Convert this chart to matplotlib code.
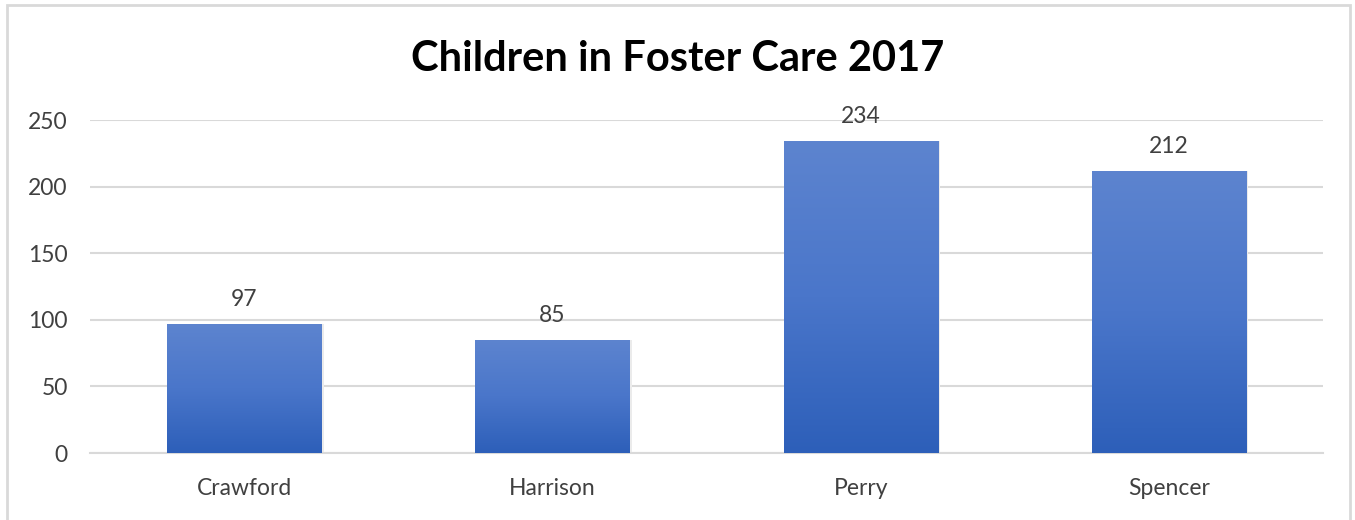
import numpy as np
import matplotlib.pyplot as plt
from matplotlib.colors import LinearSegmentedColormap
from matplotlib.patches import Rectangle

counties = ["Crawford", "Harrison", "Perry", "Spencer"]
children = [97, 85, 234, 212]
yticks = [0, 50, 100, 150, 200, 250]

plt.rcParams["font.family"] = ["Lato", "DejaVu Sans"]

fig = plt.figure(figsize=(13.55, 5.2), dpi=100)
ax = fig.add_axes([90 / 1355, 67 / 520, 1233 / 1355, 333 / 520])

# outer chart frame
fig.patches.append(Rectangle((7 / 1355, -0.05), 1343 / 1355, 1.0 - 5 / 520 + 0.05,
                             transform=fig.transFigure, fill=False,
                             edgecolor="#d9d9d9", lw=2, zorder=0))

x = np.arange(len(counties))
bars = ax.bar(x, children, width=0.5, color="none", zorder=3)

cmap = LinearSegmentedColormap.from_list("blu", ["#2d5fb9", "#4a76ca", "#5d84cf"])
grad = np.linspace(0, 1, 256).reshape(-1, 1)
for b in bars:
    x0, w, h = b.get_x(), b.get_width(), b.get_height()
    im = ax.imshow(grad, cmap=cmap, origin="lower", aspect="auto",
                   extent=(x0, x0 + w, 0, h), zorder=3)
    im.set_clip_path(b)
    # soft shadow on the right
    ax.add_patch(Rectangle((x0 + w, 0), 0.008, h, color="#ebebeb", lw=0, zorder=2))

for xi, v in zip(x, children):
    ax.annotate(str(v), (xi, v), xytext=(0, 10), textcoords="offset points",
                ha="center", va="bottom", fontsize=16.5, color="#404040")

ax.set_xlim(-0.5, len(counties) - 0.5)
ax.set_ylim(0, 250)
ax.set_yticks(yticks)
ax.set_xticks(x)
ax.set_xticklabels(counties)
ax.yaxis.grid(True, color="#d9d9d9", lw=1.5, zorder=0)
ax.set_axisbelow(True)
for s in ["top", "right", "left"]:
    ax.spines[s].set_visible(False)
ax.spines["bottom"].set_color("#d9d9d9")
ax.spines["bottom"].set_linewidth(1.5)
ax.tick_params(length=0, labelsize=16.5, colors="#404040")
ax.tick_params(axis="x", pad=18)
ax.tick_params(axis="y", pad=16)

fig.text(0.5, 1 - 59 / 520, "Children in Foster Care 2017", ha="center", va="center",
         fontsize=30, fontweight="bold", color="black")

fig.savefig("out.png", dpi=100)
